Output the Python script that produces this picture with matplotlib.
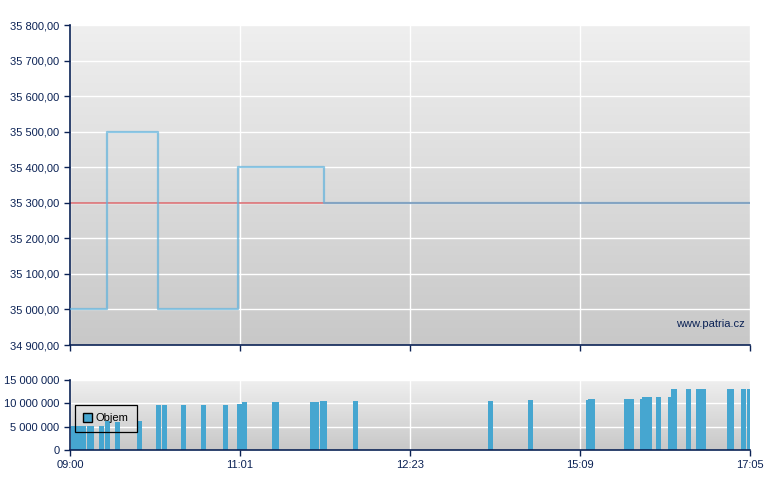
import numpy as np
import matplotlib
matplotlib.use("Agg")
import matplotlib.pyplot as plt
from matplotlib.patches import Patch

# x osa: pozice v jednotkach mezi popisky casu (0 = 09:00 ... 4 = 17:05)
time_labels = ["09:00", "11:01", "12:23", "15:09", "17:05"]

# cena (schodovy graf)
price_x = [0, 0.218, 0.518, 0.988, 1.494, 4.0]
price_y = [35000, 35500, 35000, 35400, 35300, 35300]
ref_price = 35300

# objem - leve okraje sloupcu (pixely od 09:00, 170 px na jeden popisek) a hodnoty
vol_px = [1, 6, 11, 17, 19, 29, 35, 45, 67, 86, 92, 111, 131, 153, 167, 172,
          202, 204, 240, 244, 250, 252, 283, 418, 458, 516, 518, 520, 554, 559,
          570, 572, 577, 586, 598, 601, 602, 616, 626, 631, 657, 659, 671, 677]
vol_val = [5.2, 5.2, 5.2, 5.2, 5.2, 5.2, 6.2, 6.0, 6.2, 9.7, 9.7, 9.7, 9.7, 9.7, 9.95, 10.24,
           10.38, 10.38, 10.38, 10.38, 10.6, 10.6, 10.6, 10.6, 10.8, 10.75, 10.93, 10.93, 10.93, 10.93,
           10.93, 11.36, 11.36, 11.36, 11.36, 13.07, 13.07, 13.07, 13.07, 13.07, 13.07, 13.07, 13.07, 13.07]
vol_x = np.array(vol_px) / 170.0
vol = np.array(vol_val) * 1e6

navy = "#0b2255"
plt.rcParams["font.family"] = ["Liberation Sans", "DejaVu Sans"]
plt.rcParams["font.size"] = 8

fig = plt.figure(figsize=(7.8, 4.9), dpi=100)
ax = fig.add_axes([70 / 780, 1 - 345 / 490, 680 / 780, 320 / 490])
axv = fig.add_axes([70 / 780, 1 - 450 / 490, 680 / 780, 70 / 490])

grad = np.linspace(0, 1, 256).reshape(-1, 1)
cmap = matplotlib.colors.LinearSegmentedColormap.from_list("bg", ["#efefef", "#c8c8c8"])


def style(a):
    a.imshow(grad, cmap=cmap, aspect="auto", extent=(0, 1, 0, 1),
             transform=a.transAxes, zorder=0)
    a.set_xlim(0, 4)
    a.set_xticks(range(5))
    for s in ["top", "right"]:
        a.spines[s].set_visible(False)
    for s in ["left", "bottom"]:
        a.spines[s].set_color(navy)
        a.spines[s].set_linewidth(1.2)
    a.tick_params(colors=navy, length=4, width=1, direction="out", labelcolor=navy)
    a.grid(True, color="white", linewidth=1, zorder=1)
    a.set_axisbelow(True)


style(ax)
yt = np.arange(34900, 35801, 100)
ax.set_ylim(34900, 35800)
ax.set_yticks(yt)
ax.set_yticklabels([f"{v // 1000} {v % 1000:03d},00" for v in yt])
ax.set_xticklabels([])
ax.axhline(ref_price, color="#d9676b", linewidth=1.3, alpha=0.85, zorder=2)
ax.plot(price_x, price_y, drawstyle="steps-post", color="#5fb2dc", linewidth=1.6,
        alpha=0.7, zorder=3)
ax.text(0.993, 0.065, "www.patria.cz", transform=ax.transAxes, ha="right", va="center",
        color=navy, fontsize=8)

style(axv)
axv.set_ylim(0, 15e6)
axv.set_yticks([0, 5e6, 10e6, 15e6])
axv.set_yticklabels(["0", "5 000 000", "10 000 000", "15 000 000"])
axv.set_xticklabels(time_labels)
axv.bar(vol_x, vol, width=5 / 170, align="edge", color="#46a6d0", linewidth=0, zorder=2)
leg = axv.legend(handles=[Patch(facecolor="#46a6d0", edgecolor="black", label="Objem")],
                 loc="upper left", bbox_to_anchor=(0.0074, 0.643), borderaxespad=0,
                 fancybox=False, framealpha=1, handlelength=0.75, handleheight=0.75,
                 handletextpad=0.35, borderpad=0.75, fontsize=8)
leg.get_frame().set_facecolor("none")
leg.get_frame().set_edgecolor("black")
leg.get_frame().set_linewidth(0.9)

fig.savefig("out.png", dpi=100)
